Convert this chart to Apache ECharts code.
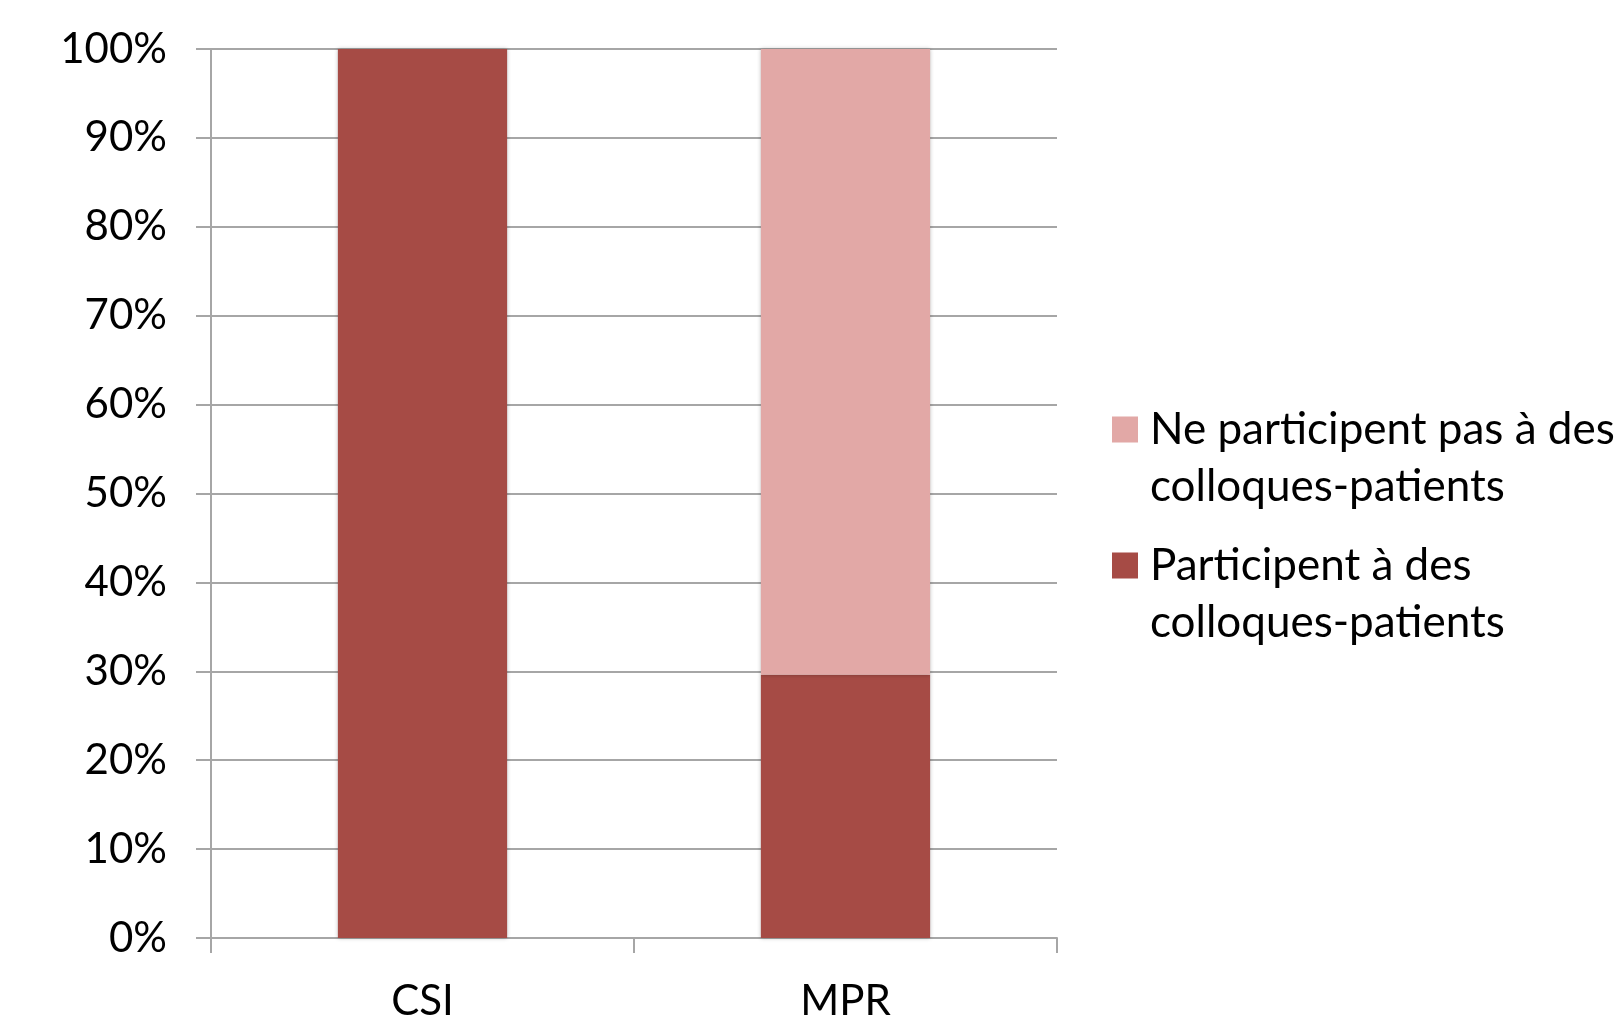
<!DOCTYPE html>
<html>
<head>
<meta charset="utf-8">
<script src="https://cdn.jsdelivr.net/npm/echarts@6/dist/echarts.min.js"></script>
<style>
  html, body { margin: 0; padding: 0; background: #ffffff; }
  #chart { width: 1622px; height: 1022px; }
</style>
</head>
<body>
<div id="chart"></div>
<script>
// Categories and stacked shares (percent)
const categories = ['CSI', 'MPR'];
const participent = [100, 29.6];
const neParticipentPas = [0, 70.4];
const seriesNames = ['Participent à des\ncolloques-patients', 'Ne participent pas à des\ncolloques-patients'];
const yTicks = [0, 10, 20, 30, 40, 50, 60, 70, 80, 90, 100];

const FONT = 'Lato';
const FONT_SIZE = 42;
const DARK = '#A64B45';
const LIGHT = '#E2A8A6';
const GRID = '#A6A6A6';

const chart = echarts.init(document.getElementById('chart'), null, { renderer: 'canvas' });

const barShadow = { shadowColor: 'rgba(0,0,0,0.28)', shadowBlur: 4, shadowOffsetX: 0, shadowOffsetY: 0 };

// square swatch plus a little trailing room before the label
const SWATCH = 'path://M0,0h26v26h-26zM33,26';

chart.setOption({
  animation: false,
  backgroundColor: '#ffffff',
  grid: { left: 211, right: 565, top: 49, bottom: 81, containLabel: false },
  legend: {
    left: 1112,
    top: 344,
    padding: 0,
    orient: 'vertical',
    data: [seriesNames[1], seriesNames[0]],
    itemWidth: 33,
    itemHeight: 26,
    itemGap: -35,
    icon: SWATCH,
    // a leading blank line keeps the swatch level with the first text line
    formatter: function (name) { return '\n' + name; },
    textStyle: {
      fontFamily: FONT,
      fontSize: 44,
      color: '#000000',
      lineHeight: 57
    }
  },
  xAxis: {
    type: 'category',
    data: categories,
    axisLine: { show: true, lineStyle: { color: GRID, width: 2 } },
    axisTick: { show: true, length: 15, alignWithLabel: false, lineStyle: { color: GRID, width: 2 } },
    axisLabel: { fontFamily: FONT, fontSize: FONT_SIZE, color: '#000000', margin: 42 }
  },
  yAxis: {
    type: 'value',
    min: 0,
    max: 100,
    interval: 10,
    axisLine: { show: true, lineStyle: { color: GRID, width: 2 } },
    axisTick: { show: true, length: 15, lineStyle: { color: GRID, width: 2 } },
    splitLine: { show: true, lineStyle: { color: GRID, width: 2 } },
    axisLabel: {
      fontFamily: FONT,
      fontSize: FONT_SIZE,
      color: '#000000',
      margin: 44,
      formatter: function (v) { return yTicks.indexOf(v) >= 0 ? v + '%' : ''; }
    }
  },
  series: [
    {
      name: seriesNames[0],
      type: 'bar',
      stack: 'total',
      data: participent,
      barCategoryGap: '60%',
      itemStyle: Object.assign({ color: DARK }, barShadow)
    },
    {
      name: seriesNames[1],
      type: 'bar',
      stack: 'total',
      data: neParticipentPas,
      barCategoryGap: '60%',
      itemStyle: Object.assign({ color: LIGHT }, barShadow)
    }
  ]
});
</script>
</body>
</html>
